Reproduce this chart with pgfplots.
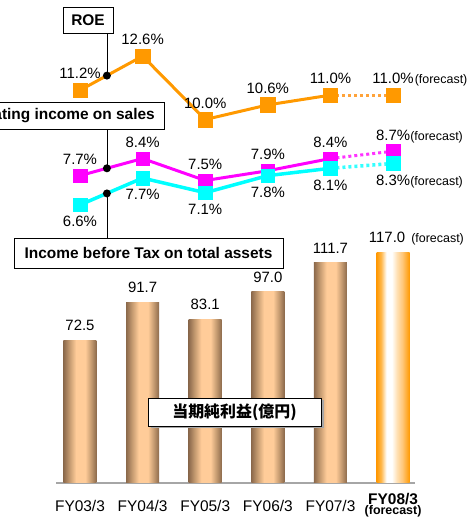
\documentclass[border=0pt]{standalone}
\usepackage{pgfplots}
\pgfplotsset{compat=1.18}
\usepackage{fontspec}
\setmainfont{Liberation Sans}
\newfontfamily\jpfont{Noto Sans CJK JP}
\definecolor{roe}{HTML}{FF9900}
\definecolor{roedot}{HTML}{FFA33A}
\definecolor{mag}{HTML}{FF00FF}
\definecolor{magdot}{HTML}{FF33FF}
\definecolor{cya}{HTML}{00FFFF}
\definecolor{cyadot}{HTML}{33FFFF}
\definecolor{bdark}{HTML}{8C6A4C}
\definecolor{bmid}{HTML}{C49A70}
\definecolor{peach}{HTML}{FFCC99}
\definecolor{o70}{HTML}{FFB84D}
\definecolor{o30}{HTML}{FFE0B3}
\definecolor{o55}{HTML}{FFC77A}
\pgfdeclarehorizontalshading{brownbar}{100bp}{color(0bp)=(bdark); color(25bp)=(bdark); color(34bp)=(bmid); color(44bp)=(peach); color(58bp)=(peach); color(67bp)=(bmid); color(75bp)=(bdark); color(100bp)=(bdark)}
\pgfdeclarehorizontalshading{orangebar}{100bp}{color(0bp)=(roe); color(25bp)=(roe); color(32bp)=(o70); color(40bp)=(white); color(48bp)=(white); color(56bp)=(o30); color(64bp)=(o55); color(75bp)=(roe); color(100bp)=(roe)}
\newcommand\vfont{\fontsize{15}{18}\selectfont}
\newcommand\ffont{\fontsize{12.5}{15}\selectfont}
\newcommand\bfont{\bfseries\fontsize{15.5}{18}\selectfont}
\pgfplotsset{
  common/.style={at={(56bp,34bp)}, anchor=south west, scale only axis,
    width=359bp, height=483bp, xmin=-0.383, xmax=5.35, clip=false,
    /pgf/number format/assume math mode=true},
  pctabove/.style={point meta=y,
    nodes near coords={\pgfmathprintnumber[fixed,fixed zerofill,precision=1]{\pgfplotspointmeta}\%},
    every node near coord/.append style={font=\vfont, text=black, anchor=base, inner sep=0pt, yshift=#1}},
  bbar/.style={ybar, bar width=33bp, bar shift=0pt, draw=none, shade, shading=#1},
}
\begin{document}
\begin{tikzpicture}[x=1bp,y=1bp]
\path[use as bounding box] (0,0) rectangle (474,517);
\clip (0,0) rectangle (474,517);

% ---------- bars ----------
\begin{axis}[common, ymin=0, ymax=245.2,
  axis y line=none, axis x line*=bottom, ytick=\empty,
  x axis line style={-, draw=gray!70, line width=1.2bp},
  xtick={0,...,5},
  xticklabels={FY03/3,FY04/3,FY05/3,FY06/3,FY07/3,\raisebox{7.5bp}{\bfseries FY08/3}},
  major tick length=0pt,
  xticklabel style={font=\fontsize{15.5}{18}\selectfont, anchor=base, yshift=-29bp, inner sep=0pt}]
\addplot[bbar=brownbar] coordinates {(0,72.5)};
\addplot[bbar=brownbar] coordinates {(1,91.7)};
\addplot[bbar=brownbar] coordinates {(2,83.1)};
\addplot[bbar=brownbar] coordinates {(3,97.0)};
\addplot[bbar=brownbar] coordinates {(4,111.7)};
\addplot[bbar=orangebar] coordinates {(5,117.0)};
\addplot[draw=none, mark=none, point meta=y,
  nodes near coords={\pgfmathprintnumber[fixed,fixed zerofill,precision=1]{\pgfplotspointmeta}},
  every node near coord/.append style={font=\vfont, text=black, anchor=base, inner sep=0pt, yshift=9.7bp}]
  coordinates {(0,72.5) (1,91.7) (2,83.1) (3,97.0) (4,111.7)};
\addplot[draw=none, mark=none, point meta=y,
  nodes near coords={\pgfmathprintnumber[fixed,fixed zerofill,precision=1]{\pgfplotspointmeta}},
  every node near coord/.append style={font=\vfont, text=black, anchor=base, inner sep=0pt, yshift=9.7bp, xshift=-6bp}]
  coordinates {(5,117.0)};
\node[anchor=base west, font=\ffont, inner sep=0pt, xshift=18bp, yshift=9.7bp] at (axis cs:5,117.0) {(forecast)};
\node[anchor=base, font=\bfseries\fontsize{12.5}{15}\selectfont, inner sep=0pt, yshift=-32bp] at (axis cs:5,0) {(forecast)};
\end{axis}

% ---------- ROE and operating income on sales ----------
\begin{axis}[common, ymin=-4.9, ymax=14.9, hide axis]
\addplot[roedot, line width=3bp, dash pattern=on 3bp off 3bp, mark=none]
  coordinates {(4,11.0) (5,11.0)};
\addplot[roe, line width=3bp, mark=square*, mark size=7.2bp, mark options={solid, line width=0.4bp}, pctabove=11.5bp]
  coordinates {(0,11.2) (1,12.6) (2,10.0) (3,10.6) (4,11.0)};
\addplot[roe, only marks, mark=square*, mark size=7.2bp, mark options={solid, line width=0.4bp}, pctabove=11.5bp]
  coordinates {(5,11.0)};
\node[anchor=base west, font=\ffont, inner sep=0pt, xshift=21.5bp, yshift=11.5bp] at (axis cs:5,11.0) {(forecast)};

\addplot[magdot, line width=3bp, dash pattern=on 3bp off 3bp, mark=none]
  coordinates {(4,8.4) (5,8.7)};
\addplot[mag, line width=3bp, mark=square*, mark size=6.8bp, mark options={solid, line width=0.4bp}, pctabove=11.2bp]
  coordinates {(0,7.7) (1,8.4) (2,7.5) (3,7.9) (4,8.4)};
\addplot[mag, only marks, mark=square*, mark size=6.8bp, mark options={solid, line width=0.4bp}, pctabove=11.2bp]
  coordinates {(5,8.7)};
\node[anchor=base west, font=\ffont, inner sep=0pt, xshift=17bp, yshift=11.2bp] at (axis cs:5,8.7) {(forecast)};
\coordinate (dR) at (axis cs:0.43,11.80);
\coordinate (dM) at (axis cs:0.43,8.00);
\end{axis}

% ---------- income before tax on total assets ----------
\begin{axis}[common, ymin=-4.8, ymax=15.0, hide axis]
\addplot[cyadot, line width=3.5bp, dash pattern=on 3bp off 3bp, mark=none]
  coordinates {(4,8.1) (5,8.3)};
\addplot[cya, line width=3.5bp, mark=square*, mark size=6.8bp, mark options={solid, line width=0.4bp}, pctabove=-21.8bp]
  coordinates {(0,6.6) (1,7.7) (2,7.1) (3,7.8) (4,8.1)};
\addplot[cya, only marks, mark=square*, mark size=6.8bp, mark options={solid, line width=0.4bp}, pctabove=-21.8bp]
  coordinates {(5,8.3)};
\node[anchor=base west, font=\ffont, inner sep=0pt, xshift=17bp, yshift=-21.8bp] at (axis cs:5,8.3) {(forecast)};
\coordinate (dC) at (axis cs:0.43,7.07);
\end{axis}

% ---------- callout boxes ----------
\draw[line width=0.8bp, fill=white] (63,484) rectangle (113,510);
\node[font=\bfont, inner sep=0pt] at (88,497) {ROE};
\draw[line width=0.8bp] (dR) -- (dR |- 0,484);
\fill (dR) circle (4bp);

\draw[line width=0.8bp, fill=white] (-60,388) rectangle (164,415);
\node[font=\bfont, inner sep=0pt, anchor=east] at (155,401.5) {Operating income on sales};
\draw[line width=0.8bp] (dM) -- (dM |- 0,388);
\fill (dM) circle (4bp);

\draw[line width=0.8bp, fill=white] (14,249) rectangle (283,279);
\node[font=\bfont, inner sep=0pt] at (148.5,264) {Income before Tax on total assets};
\draw[line width=0.8bp] (dC) -- (dC |- 0,279);
\fill (dC) circle (4bp);

\fill[gray!70] (150.5,88.5) rectangle (323.5,116.5);
\draw[line width=0.8bp, fill=white] (148,91) rectangle (321,119);
\node[inner sep=0pt] at (234.5,105) {\jpfont\bfseries\fontsize{16}{18}\selectfont 当期純利益(億円)};
\end{tikzpicture}
\end{document}
